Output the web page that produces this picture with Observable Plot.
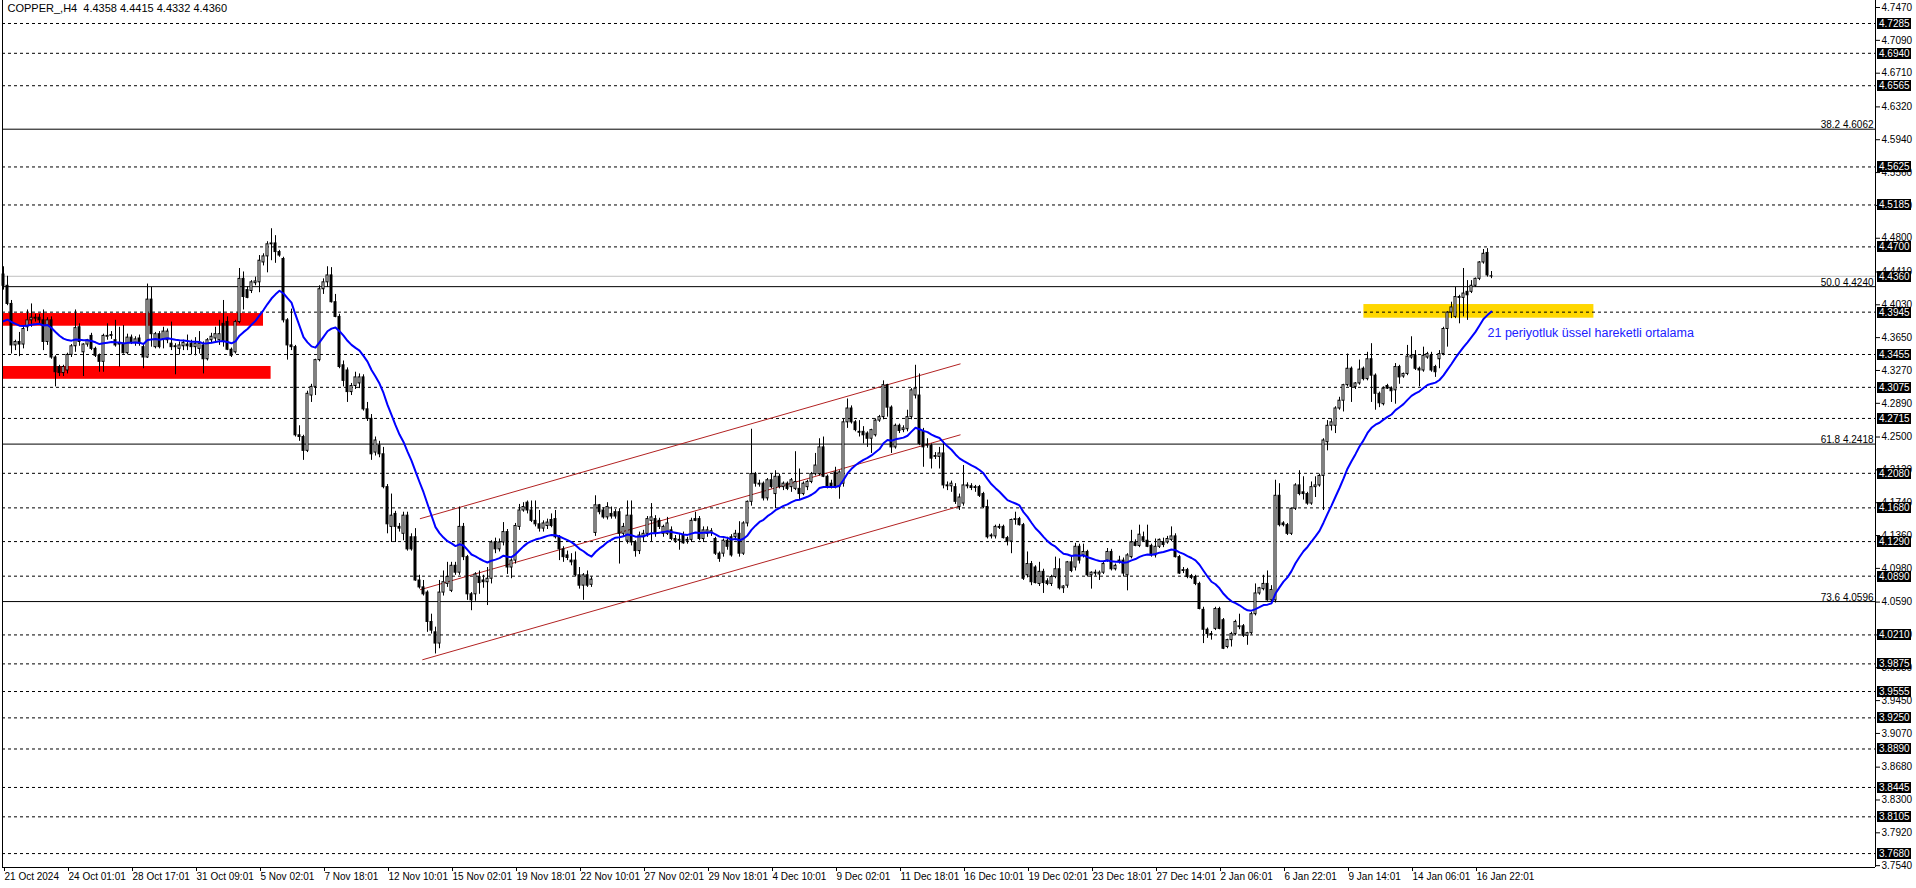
<!DOCTYPE html>
<html><head><meta charset="utf-8">
<script src="https://cdn.jsdelivr.net/npm/d3@7"></script>
<script src="https://cdn.jsdelivr.net/npm/@observablehq/plot@0.6"></script>
<style>
html,body{margin:0;padding:0;background:#fff;}
#chart svg{display:block;}
</style></head><body><div id="chart"></div>
<script>
const title = "COPPER_,H4  4.4358 4.4415 4.4332 4.4360";

const open = [
4.438,4.425,4.404,4.356,4.360,4.357,4.377,4.385,4.388,4.388,
4.385,4.360,4.385,4.342,4.331,4.324,4.327,4.345,4.355,4.377,
4.348,4.357,4.367,4.352,4.344,4.337,4.366,4.367,4.362,4.357,
4.358,4.347,4.365,4.359,4.364,4.354,4.342,4.409,4.354,4.369,
4.363,4.362,4.358,4.355,4.352,4.355,4.357,4.358,4.354,4.352,
4.356,4.340,4.362,4.364,4.362,4.381,4.383,4.351,4.348,4.383,
4.433,4.420,4.419,4.428,4.429,4.452,4.459,4.473,4.474,4.464,
4.456,4.385,4.356,4.354,4.252,4.250,4.234,4.298,4.308,4.339,
4.421,4.429,4.437,4.406,4.389,4.333,4.327,4.302,4.309,4.312,
4.319,4.282,4.271,4.232,4.240,4.230,4.192,4.146,4.161,4.146,
4.138,4.159,4.134,4.134,4.084,4.076,4.070,4.036,4.024,4.011,
4.070,4.080,4.072,4.101,4.093,4.146,4.111,4.068,4.068,4.088,
4.084,4.082,4.086,4.128,4.120,4.128,4.140,4.099,4.107,4.146,
4.165,4.174,4.165,4.153,4.149,4.144,4.147,4.154,4.155,4.134,
4.120,4.113,4.107,4.107,4.090,4.078,4.090,4.079,4.139,4.171,
4.165,4.157,4.161,4.163,4.163,4.138,4.130,4.159,4.128,4.118,
4.134,4.138,4.153,4.155,4.153,4.138,4.138,4.142,4.132,4.131,
4.136,4.130,4.131,4.155,4.155,4.132,4.138,4.139,4.132,4.115,
4.115,4.130,4.134,4.134,4.138,4.115,4.150,4.175,4.207,4.196,
4.196,4.179,4.200,4.184,4.204,4.192,4.196,4.192,4.190,4.190,
4.184,4.192,4.198,4.207,4.207,4.238,4.204,4.196,4.209,4.192,
4.196,4.267,4.283,4.267,4.256,4.256,4.254,4.248,4.252,4.269,
4.273,4.310,4.284,4.238,4.263,4.258,4.259,4.273,4.298,4.298,
4.256,4.240,4.240,4.227,4.227,4.231,4.194,4.193,4.192,4.169,
4.173,4.194,4.193,4.191,4.192,4.184,4.169,4.135,4.135,4.146,
4.146,4.133,4.129,4.154,4.155,4.148,4.090,4.103,4.099,4.080,
4.094,4.083,4.080,4.088,4.097,4.075,4.078,4.105,4.099,4.123,
4.113,4.117,4.090,4.093,4.091,4.093,4.107,4.117,4.097,4.107,
4.107,4.090,4.111,4.128,4.124,4.134,4.130,4.124,4.113,4.123,
4.128,4.128,4.131,4.135,4.111,4.095,4.096,4.089,4.088,4.080,
4.050,4.027,4.022,4.028,4.051,4.038,4.007,4.015,4.022,4.030,
4.031,4.020,4.023,4.045,4.069,4.074,4.080,4.061,4.061,4.182,
4.150,4.148,4.138,4.167,4.194,4.186,4.184,4.173,4.192,4.194,
4.205,4.244,4.263,4.263,4.283,4.292,4.310,4.329,4.308,4.312,
4.329,4.317,4.340,4.321,4.300,4.288,4.309,4.306,4.304,4.331,
4.320,4.323,4.342,4.344,4.329,4.327,4.342,4.344,4.331,4.340,
4.346,4.375,4.394,4.389,4.411,4.411,4.418,4.418,4.425,4.433,
4.452,4.463,4.4358];

const high = [
4.447,4.436,4.408,4.362,4.371,4.377,4.397,4.404,4.392,4.392,
4.397,4.388,4.389,4.344,4.333,4.333,4.347,4.357,4.397,4.381,
4.358,4.363,4.370,4.354,4.346,4.369,4.381,4.372,4.385,4.377,
4.379,4.369,4.368,4.366,4.368,4.358,4.427,4.423,4.371,4.372,
4.377,4.375,4.383,4.358,4.360,4.362,4.368,4.362,4.365,4.372,
4.360,4.364,4.370,4.377,4.385,4.408,4.389,4.353,4.385,4.445,
4.441,4.424,4.431,4.435,4.460,4.462,4.476,4.491,4.483,4.466,
4.458,4.387,4.398,4.356,4.263,4.252,4.303,4.311,4.340,4.425,
4.433,4.447,4.446,4.415,4.392,4.338,4.330,4.312,4.325,4.323,
4.322,4.290,4.276,4.250,4.245,4.238,4.195,4.184,4.164,4.150,
4.163,4.163,4.138,4.144,4.090,4.084,4.072,4.045,4.030,4.084,
4.095,4.105,4.105,4.105,4.169,4.150,4.113,4.070,4.093,4.095,
4.090,4.099,4.130,4.133,4.132,4.151,4.143,4.109,4.150,4.172,
4.174,4.176,4.176,4.176,4.165,4.153,4.155,4.161,4.165,4.136,
4.123,4.118,4.115,4.117,4.099,4.092,4.095,4.088,4.182,4.172,
4.168,4.174,4.169,4.166,4.167,4.150,4.176,4.176,4.130,4.140,
4.142,4.158,4.173,4.159,4.156,4.148,4.157,4.146,4.136,4.138,
4.140,4.134,4.156,4.163,4.158,4.146,4.146,4.144,4.134,4.117,
4.132,4.134,4.137,4.142,4.152,4.152,4.176,4.259,4.209,4.200,
4.198,4.202,4.207,4.211,4.207,4.198,4.198,4.202,4.233,4.213,
4.198,4.200,4.209,4.231,4.248,4.250,4.206,4.200,4.215,4.211,
4.271,4.294,4.286,4.269,4.269,4.262,4.256,4.259,4.271,4.275,
4.315,4.311,4.286,4.265,4.265,4.263,4.281,4.306,4.333,4.323,
4.260,4.248,4.242,4.232,4.238,4.245,4.198,4.199,4.196,4.184,
4.217,4.197,4.196,4.194,4.194,4.186,4.177,4.138,4.148,4.149,
4.148,4.135,4.155,4.163,4.157,4.150,4.117,4.106,4.101,4.105,
4.097,4.086,4.090,4.111,4.109,4.078,4.106,4.111,4.127,4.126,
4.126,4.119,4.094,4.096,4.095,4.106,4.121,4.120,4.103,4.112,
4.110,4.115,4.142,4.131,4.148,4.140,4.148,4.126,4.132,4.132,
4.133,4.135,4.146,4.138,4.113,4.099,4.098,4.091,4.090,4.082,
4.053,4.029,4.025,4.053,4.053,4.040,4.016,4.024,4.038,4.045,
4.033,4.024,4.047,4.080,4.076,4.090,4.095,4.078,4.200,4.196,
4.152,4.150,4.168,4.196,4.211,4.204,4.186,4.198,4.204,4.207,
4.248,4.269,4.271,4.285,4.296,4.311,4.346,4.331,4.313,4.339,
4.331,4.348,4.358,4.323,4.302,4.308,4.311,4.308,4.335,4.333,
4.324,4.356,4.366,4.350,4.331,4.354,4.348,4.348,4.333,4.350,
4.377,4.395,4.406,4.423,4.414,4.445,4.431,4.431,4.434,4.453,
4.467,4.468,4.4415];

const low = [
4.420,4.402,4.346,4.350,4.343,4.352,4.372,4.377,4.383,4.380,
4.350,4.356,4.340,4.308,4.320,4.320,4.323,4.342,4.348,4.355,
4.320,4.354,4.350,4.342,4.325,4.325,4.362,4.363,4.354,4.331,
4.346,4.345,4.357,4.355,4.355,4.329,4.341,4.354,4.352,4.352,
4.352,4.358,4.350,4.322,4.345,4.350,4.350,4.345,4.344,4.346,
4.323,4.338,4.358,4.360,4.356,4.354,4.350,4.342,4.346,4.381,
4.397,4.410,4.416,4.425,4.417,4.448,4.440,4.454,4.451,4.458,
4.382,4.339,4.350,4.250,4.245,4.223,4.232,4.290,4.298,4.337,
4.415,4.423,4.405,4.388,4.329,4.308,4.290,4.298,4.305,4.306,
4.280,4.268,4.223,4.228,4.226,4.190,4.138,4.128,4.128,4.140,
4.130,4.118,4.118,4.083,4.074,4.066,4.024,4.022,3.999,4.005,
4.066,4.076,4.070,4.090,4.090,4.107,4.061,4.049,4.060,4.068,
4.075,4.055,4.080,4.115,4.117,4.124,4.091,4.086,4.103,4.142,
4.163,4.161,4.151,4.146,4.140,4.140,4.143,4.145,4.132,4.107,
4.105,4.107,4.101,4.088,4.074,4.061,4.076,4.076,4.135,4.160,
4.155,4.154,4.155,4.155,4.103,4.135,4.126,4.124,4.111,4.114,
4.128,4.134,4.129,4.134,4.143,4.134,4.136,4.130,4.127,4.119,
4.126,4.126,4.128,4.152,4.130,4.128,4.134,4.135,4.113,4.105,
4.111,4.119,4.111,4.130,4.111,4.113,4.146,4.170,4.192,4.192,
4.176,4.176,4.190,4.167,4.190,4.188,4.188,4.186,4.188,4.177,
4.182,4.188,4.196,4.205,4.205,4.203,4.190,4.190,4.190,4.178,
4.192,4.260,4.265,4.256,4.250,4.242,4.238,4.231,4.250,4.267,
4.270,4.273,4.231,4.236,4.254,4.255,4.256,4.270,4.294,4.240,
4.215,4.237,4.213,4.224,4.213,4.190,4.188,4.186,4.172,4.165,
4.170,4.190,4.188,4.186,4.180,4.167,4.132,4.132,4.132,4.143,
4.132,4.124,4.115,4.148,4.147,4.084,4.087,4.078,4.080,4.077,
4.069,4.078,4.077,4.086,4.073,4.069,4.075,4.093,4.095,4.103,
4.110,4.088,4.074,4.089,4.084,4.091,4.105,4.095,4.095,4.103,
4.088,4.072,4.109,4.123,4.122,4.128,4.122,4.111,4.110,4.121,
4.122,4.126,4.129,4.110,4.091,4.092,4.086,4.085,4.078,4.050,
4.011,4.017,4.015,4.026,4.027,4.004,4.005,4.007,4.020,4.027,
4.018,4.009,4.021,4.043,4.067,4.072,4.060,4.058,4.058,4.146,
4.146,4.136,4.136,4.165,4.182,4.177,4.171,4.171,4.180,4.192,
4.165,4.234,4.257,4.254,4.281,4.279,4.308,4.290,4.305,4.310,
4.315,4.315,4.290,4.281,4.284,4.286,4.305,4.290,4.288,4.311,
4.318,4.321,4.340,4.327,4.308,4.325,4.340,4.325,4.319,4.329,
4.344,4.354,4.387,4.387,4.381,4.389,4.385,4.416,4.423,4.431,
4.450,4.435,4.4332];

const close = [
4.425,4.404,4.356,4.360,4.357,4.375,4.385,4.388,4.387,4.385,
4.360,4.385,4.342,4.325,4.324,4.331,4.345,4.355,4.376,4.360,
4.357,4.362,4.352,4.344,4.337,4.367,4.367,4.368,4.356,4.358,
4.347,4.365,4.359,4.363,4.358,4.342,4.409,4.369,4.369,4.354,
4.372,4.372,4.354,4.354,4.356,4.359,4.355,4.354,4.358,4.358,
4.340,4.362,4.366,4.369,4.369,4.360,4.351,4.344,4.383,4.433,
4.412,4.411,4.429,4.430,4.454,4.459,4.473,4.474,4.464,4.460,
4.385,4.356,4.354,4.252,4.250,4.234,4.300,4.308,4.339,4.421,
4.429,4.437,4.406,4.389,4.331,4.315,4.302,4.309,4.319,4.319,
4.282,4.271,4.230,4.246,4.230,4.192,4.149,4.159,4.146,4.144,
4.159,4.120,4.120,4.084,4.076,4.068,4.036,4.026,4.011,4.070,
4.082,4.088,4.101,4.093,4.146,4.111,4.068,4.061,4.091,4.081,
4.082,4.086,4.128,4.120,4.128,4.140,4.099,4.107,4.147,4.165,
4.169,4.165,4.153,4.149,4.144,4.150,4.151,4.147,4.134,4.120,
4.111,4.110,4.105,4.090,4.078,4.090,4.078,4.085,4.171,4.163,
4.157,4.169,4.158,4.158,4.138,4.146,4.159,4.128,4.118,4.136,
4.138,4.155,4.157,4.138,4.146,4.146,4.150,4.132,4.130,4.130,
4.127,4.131,4.153,4.153,4.132,4.142,4.142,4.141,4.115,4.109,
4.130,4.123,4.113,4.138,4.115,4.150,4.175,4.207,4.196,4.195,
4.179,4.200,4.192,4.204,4.192,4.196,4.190,4.200,4.198,4.184,
4.196,4.198,4.207,4.217,4.238,4.204,4.192,4.192,4.192,4.209,
4.267,4.283,4.267,4.258,4.255,4.252,4.248,4.258,4.269,4.273,
4.310,4.284,4.238,4.263,4.257,4.260,4.273,4.304,4.306,4.242,
4.238,4.241,4.225,4.228,4.231,4.194,4.193,4.196,4.175,4.180,
4.194,4.193,4.191,4.192,4.182,4.169,4.134,4.136,4.146,4.145,
4.133,4.129,4.154,4.155,4.148,4.086,4.103,4.082,4.081,4.094,
4.081,4.080,4.088,4.097,4.075,4.077,4.105,4.095,4.123,4.107,
4.117,4.090,4.093,4.092,4.093,4.103,4.117,4.097,4.101,4.105,
4.092,4.113,4.128,4.124,4.137,4.130,4.123,4.113,4.123,4.131,
4.125,4.132,4.135,4.111,4.092,4.096,4.088,4.087,4.080,4.051,
4.027,4.022,4.021,4.051,4.028,4.005,4.015,4.022,4.036,4.031,
4.020,4.023,4.045,4.069,4.075,4.080,4.061,4.073,4.182,4.148,
4.148,4.138,4.167,4.194,4.184,4.184,4.173,4.192,4.194,4.205,
4.246,4.263,4.267,4.283,4.292,4.310,4.329,4.308,4.312,4.328,
4.317,4.340,4.321,4.300,4.289,4.306,4.306,4.303,4.331,4.319,
4.323,4.343,4.344,4.329,4.327,4.344,4.346,4.327,4.325,4.346,
4.375,4.394,4.400,4.412,4.412,4.416,4.414,4.425,4.433,4.452,
4.462,4.437,4.4360];

// 21-period exponential moving average; value at the first visible bar
const emaPeriod = 21;
const emaStart = 4.384;
const emaLabel = "21 periyotluk üssel hareketli ortalama";
const emaLabelBar = 371;
const emaLabelPrice = 4.3701;

const timeTickBars = [0,16,32,48,64,80,96,112,128,144,160,176,192,208,224,240,256,272,288,304,320,336,352,368];
const timeTickLabels = ["21 Oct 2024","24 Oct 01:01","28 Oct 17:01","31 Oct 09:01","5 Nov 02:01","7 Nov 18:01","12 Nov 10:01","15 Nov 02:01","19 Nov 18:01","22 Nov 10:01","27 Nov 02:01","29 Nov 18:01","4 Dec 10:01","9 Dec 02:01","11 Dec 18:01","16 Dec 10:01","19 Dec 02:01","23 Dec 18:01","27 Dec 14:01","2 Jan 06:01","6 Jan 22:01","9 Jan 14:01","14 Jan 06:01","16 Jan 22:01"];

const priceTicks = [4.7470,4.7090,4.6710,4.6320,4.5940,4.5560,4.5180,4.4800,4.4410,4.4030,4.3650,4.3270,4.2890,4.2500,4.2120,4.1740,4.1360,4.0980,4.0590,4.0210,3.9830,3.9450,3.9070,3.8680,3.8300,3.7920,3.7540];

const levelPrices = [4.7285,4.6940,4.6565,4.5625,4.5185,4.4700,4.3945,4.3455,4.3075,4.2715,4.2080,4.1680,4.1290,4.0890,4.0210,3.9875,3.9555,3.9250,3.8890,3.8445,3.8105,3.7680];
const currentPrice = 4.4360;

const fibPercents = ["38.2","50.0","61.8","73.6"];
const fibPrices = [4.6062,4.4240,4.2418,4.0596];

const channelStartBar = [104.1,104.1,104.7];
const channelStartPrice = [4.1554,4.0732,3.9922];
const channelEndBar = [239.25,239.25,238.8];
const channelEndPrice = [4.3347,4.2526,4.1696];

const redZoneFromBar = [-0.25,-0.25];
const redZoneToBar = [65,66.9];
const redZoneLow = [4.3782,4.3168];
const redZoneHigh = [4.3929,4.3316];

const goldZoneFromBar = [340.1];
const goldZoneToBar = [397.6];
const goldZoneLow = [4.3875];
const goldZoneHigh = [4.4033];

const xDomain = [-0.25, 468];
const yDomain = [3.75188, 4.75511];

// ---- build tables ----
const bars = open.map((o, i) => ({i, o, h: high[i], l: low[i], c: close[i]}));
const k = 2 / (emaPeriod + 1);
const ema = [];
close.forEach((c, i) => {
  const prev = i === 0 ? emaStart : ema[i - 1].v;
  ema.push({i, v: i === 0 ? emaStart : prev + k * (c - prev)});
});
const channels = channelStartBar.map((b, j) => ({x1: b, y1: channelStartPrice[j], x2: channelEndBar[j], y2: channelEndPrice[j]}));
const redZones = redZoneFromBar.map((b, j) => ({x1: b, x2: redZoneToBar[j], y1: redZoneLow[j], y2: redZoneHigh[j]}));
const goldZones = goldZoneFromBar.map((b, j) => ({x1: b, x2: goldZoneToBar[j], y1: goldZoneLow[j], y2: goldZoneHigh[j]}));
const fibs = fibPrices.map((p, j) => ({p, t: fibPercents[j] + " " + p.toFixed(4)}));
const tickLabelMap = new Map(timeTickBars.map((b, j) => [b, timeTickLabels[j]]));

const FONT = "'Liberation Sans', Arial, sans-serif";
const W = 1916, H = 888, MR = 41, MB = 21;

const chart = Plot.plot({
  width: W, height: H,
  marginLeft: 2, marginRight: MR, marginTop: 0, marginBottom: MB,
  style: {fontFamily: FONT, fontSize: "10px", background: "#ffffff", color: "#000000", overflow: "visible"},
  x: {type: "linear", domain: xDomain, axis: null},
  y: {type: "linear", domain: yDomain, axis: null},
  marks: [
    Plot.rect(redZones, {x1: "x1", x2: "x2", y1: "y1", y2: "y2", fill: "#ff0000"}),
    Plot.rect(goldZones, {x1: "x1", x2: "x2", y1: "y1", y2: "y2", fill: "#ffd700"}),
    Plot.ruleY(levelPrices, {stroke: "#000000", strokeWidth: 1, strokeDasharray: "3,3"}),
    Plot.ruleY([currentPrice], {stroke: "#c0c0c0", strokeWidth: 1}),
    Plot.ruleY(fibs, {y: "p", stroke: "#000000", strokeWidth: 1}),
    Plot.text(fibs, {y: "p", text: "t", frameAnchor: "right", textAnchor: "end", lineAnchor: "bottom", dx: -2, dy: -1, fontSize: 10, fill: "#000000"}),
    Plot.link(channels, {x1: "x1", y1: "y1", x2: "x2", y2: "y2", stroke: "#b22222", strokeWidth: 1}),
    Plot.ruleX(bars, {x: "i", y1: "l", y2: "h", stroke: "#000000", strokeWidth: 1}),
    Plot.rect(bars, {
      x1: d => d.i - 0.25, x2: d => d.i + 0.25,
      y1: d => Math.min(d.o, d.c), y2: d => Math.max(d.o, d.c),
      fill: d => d.c >= d.o ? "#ffffff" : "#000000",
      stroke: "#000000", strokeWidth: 1
    }),
    Plot.line(ema, {x: "i", y: "v", stroke: "#0000ff", strokeWidth: 2}),
    Plot.text([emaLabel], {x: emaLabelBar, y: emaLabelPrice, text: d => d, textAnchor: "start", fill: "#2020ff", fontSize: 12.5}),
    Plot.text([title], {frameAnchor: "top-left", text: d => d, textAnchor: "start", lineAnchor: "top", dx: 5, dy: 4, fontSize: 11, fill: "#000000"}),
    Plot.ruleX([xDomain[0], xDomain[1]], {stroke: "#000000"}),
    Plot.ruleY([yDomain[0]], {stroke: "#000000"}),
    Plot.axisY(priceTicks, {anchor: "right", tickSize: 4, tickPadding: 2, tickFormat: d => d.toFixed(4), fontSize: 10, label: null, stroke: "#000000", fill: "#000000"}),
    Plot.axisX(timeTickBars, {anchor: "bottom", tickSize: 4, tickPadding: 1, tickFormat: d => tickLabelMap.get(d), textAnchor: "start", dx: 1, fontSize: 10, label: null, stroke: "#000000", fill: "#000000"})
  ],
  color: {type: "identity"}
});

// boxed price labels on the right price scale
const ys = chart.scale("y");
const svg = d3.select(chart);
const g = svg.append("g").attr("font-family", FONT).attr("font-size", 10).attr("text-anchor", "start");
const boxX = W - MR + 2;
[...levelPrices, currentPrice].forEach(v => {
  const y = Math.round(ys.apply(v));
  g.append("rect").attr("x", boxX).attr("y", y - 5).attr("width", 34).attr("height", 11).attr("fill", "#000000");
  g.append("text").attr("x", boxX + 2).attr("y", y + 0.5).attr("dy", "0.35em").attr("text-anchor", "start").attr("fill", "#ffffff").text(v.toFixed(4));
});

document.getElementById("chart").appendChild(chart);
</script>
</body></html>
